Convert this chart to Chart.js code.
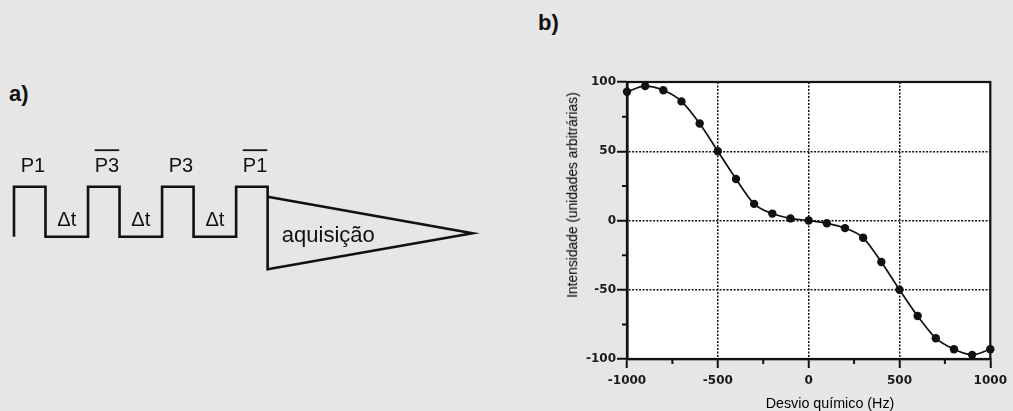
<!DOCTYPE html>
<html>
<head>
<meta charset="utf-8">
<script src="https://cdn.jsdelivr.net/npm/chart.js@4.4.1/dist/chart.umd.min.js"></script>
<style>
  html, body { margin:0; padding:0; }
  body { width:1013px; height:411px; position:relative; overflow:hidden; background:#e6e6e6; font-family:'Liberation Sans', Arial, sans-serif; color:#111; }
  .lbl { position:absolute; line-height:1; white-space:nowrap; }
  #wrapA { position:absolute; left:0; top:100px; width:520px; height:200px; }
  #wrapB { position:absolute; left:520px; top:0; width:493px; height:411px; }
</style>
</head>
<body>
<div class="lbl" style="left:9px;top:83px;font-weight:bold;font-size:22px;">a)</div>
<div class="lbl" style="left:538px;top:12px;font-weight:bold;font-size:22px;">b)</div>
<div id="wrapA"><canvas id="chartA" width="520" height="200"></canvas></div>
<div id="wrapB"><canvas id="chartB" width="493" height="411"></canvas></div>
<div class="lbl" style="left:573px;top:195px;font-size:13.8px;color:#000;transform:translate(-50%,-50%) rotate(-90deg);">Intensidade (unidades arbitrárias)</div>
<div class="lbl" style="left:830px;top:403px;font-size:14.3px;color:#000;transform:translate(-50%,-50%);">Desvio químico (Hz)</div>
<script>
// ---------- data: pulse sequence (a) ----------
const pulseLabels = ['P1', 'P3', 'P3', 'P1'];
const pulseBarred = [false, true, false, true];
const pulseLength = 1.0;      // time units
const delayLength = 1.35;     // Δt
const delayLabel = 'Δt';
const pulseHeight = 1.0;
const acqLength = 6.5;
const acqUpper = 0.8;
const acqLower = -0.65;
const acqEnd = 0.07;
const acqLabel = 'aquisição';

// ---------- data: chart (b) ----------
const shiftHz = [-1000, -900, -800, -700, -600, -500, -400, -300, -200, -100, 0,
                 100, 200, 300, 400, 500, 600, 700, 800, 900, 1000];
const intensity = [93, 97, 94, 86, 70, 50, 30, 12, 5, 1.5, 0,
                   -2, -5.5, -12.5, -30, -50, -69, -85, -93, -97, -93];
const xMajorTicks = [-1000, -500, 0, 500, 1000];
const yMajorTicks = [-100, -50, 0, 50, 100];
const xGridValues = [-500, 0, 500];
const yGridValues = [-50, 0, 50];

const INK = '#111';
const CLEAR = 'rgba(0,0,0,0)';

// ---------- chart (a): pulse sequence ----------
let t = 0;
const path = [];
const pulseStarts = [];
const delayStarts = [];
pulseLabels.forEach((_, i) => {
  pulseStarts.push(t);
  path.push({x: t, y: 0}, {x: t, y: pulseHeight}, {x: t + pulseLength, y: pulseHeight});
  t += pulseLength;
  if (i < pulseLabels.length - 1) {
    path.push({x: t, y: 0});
    delayStarts.push(t);
    t += delayLength;
  }
});
const acqStart = t;
path.push({x: t, y: acqLower}, {x: t + acqLength, y: acqEnd}, {x: t, y: acqUpper});

const seqLabels = {
  id: 'seqLabels',
  afterDraw(chart) {
    const c = chart.ctx, xs = chart.scales.x, ys = chart.scales.y;
    c.save();
    c.fillStyle = INK; c.strokeStyle = INK;
    c.textAlign = 'center'; c.textBaseline = 'alphabetic';
    c.font = '20px "Liberation Sans", Arial, sans-serif';
    pulseLabels.forEach((name, i) => {
      const cx = xs.getPixelForValue(pulseStarts[i] + pulseLength / 2 + 0.1);
      const by = ys.getPixelForValue(1.3);
      c.fillText(name, cx, by);
      if (pulseBarred[i]) {
        const w = c.measureText(name).width;
        const oy = ys.getPixelForValue(1.73);
        c.lineWidth = 1.8;
        c.beginPath(); c.moveTo(cx - w / 2, oy); c.lineTo(cx + w / 2, oy); c.stroke();
      }
    });
    delayStarts.forEach(d => {
      c.fillText(delayLabel, xs.getPixelForValue(d + delayLength / 2), ys.getPixelForValue(0.21));
    });
    c.textAlign = 'left';
    c.font = '22px "Liberation Sans", Arial, sans-serif';
    c.fillText(acqLabel, xs.getPixelForValue(acqStart + 0.45), ys.getPixelForValue(-0.1));
    c.restore();
  }
};

new Chart(document.getElementById('chartA'), {
  type: 'line',
  data: { datasets: [{ data: path, borderColor: INK, borderWidth: 2.6, pointRadius: 0,
    tension: 0, borderJoinStyle: 'miter', borderCapStyle: 'butt', fill: false, clip: false }] },
  options: {
    responsive: false, animation: false, events: [],
    layout: { padding: 0 },
    plugins: { legend: { display: false }, tooltip: { enabled: false } },
    scales: {
      x: { type: 'linear', display: false, min: -0.444, max: 16.06 },
      y: { type: 'linear', display: false, min: -1.266, max: 2.734 }
    }
  },
  plugins: [seqLabels]
});

// ---------- chart (b) ----------
const plotFrame = {
  id: 'plotFrame',
  beforeDraw(chart) {
    const {ctx, chartArea: a} = chart;
    ctx.save(); ctx.fillStyle = '#fff';
    ctx.fillRect(a.left, a.top, a.right - a.left, a.bottom - a.top);
    ctx.restore();
  },
  afterDraw(chart) {
    const {ctx, chartArea: a, scales} = chart;
    ctx.save();
    ctx.strokeStyle = INK;
    ctx.lineWidth = 2.2;
    ctx.strokeRect(a.left, a.top, a.right - a.left, a.bottom - a.top);
    // minor ticks
    ctx.lineWidth = 2;
    ctx.beginPath();
    scales.x.ticks.forEach(tk => {
      if (!xMajorTicks.includes(tk.value)) {
        const px = scales.x.getPixelForValue(tk.value);
        ctx.moveTo(px, a.bottom); ctx.lineTo(px, a.bottom + 5);
      }
    });
    scales.y.ticks.forEach(tk => {
      if (!yMajorTicks.includes(tk.value)) {
        const py = scales.y.getPixelForValue(tk.value);
        ctx.moveTo(a.left, py); ctx.lineTo(a.left - 5, py);
      }
    });
    ctx.stroke();
    ctx.restore();
  }
};

const tickFont = { family: '"DejaVu Sans", sans-serif', weight: 'bold', size: 12 };

new Chart(document.getElementById('chartB'), {
  type: 'line',
  data: { datasets: [{
    data: shiftHz.map((f, i) => ({x: f, y: intensity[i]})),
    borderColor: INK, borderWidth: 1.7,
    pointRadius: 4.2, pointBackgroundColor: INK, pointBorderWidth: 0,
    cubicInterpolationMode: 'monotone', fill: false, clip: false
  }] },
  options: {
    responsive: false, animation: false, events: [],
    layout: { padding: { top: 82, right: 16, left: 0, bottom: 0 } },
    plugins: { legend: { display: false }, tooltip: { enabled: false } },
    scales: {
      x: {
        type: 'linear', min: -1000, max: 1000,
        afterFit: s => { s.height = 52; },
        ticks: { stepSize: 250, autoSkip: false, maxRotation: 0, padding: 6,
          font: tickFont, color: '#1a1a1a',
          callback: v => xMajorTicks.includes(v) ? String(v) : '' },
        grid: {
          color: c => (c.tick && xGridValues.includes(c.tick.value)) ? INK : CLEAR,
          lineWidth: 1.5, tickLength: 9, tickWidth: 2,
          tickColor: c => (c.tick && xMajorTicks.includes(c.tick.value)) ? INK : CLEAR
        },
        border: { display: true, color: INK, width: 2.2, dash: [2, 1.5] }
      },
      y: {
        type: 'linear', min: -100, max: 100,
        afterFit: s => { s.width = 107; },
        ticks: { stepSize: 25, autoSkip: false, padding: 1,
          font: tickFont, color: '#1a1a1a',
          callback: v => yMajorTicks.includes(v) ? String(v) : '' },
        grid: {
          color: c => (c.tick && yGridValues.includes(c.tick.value)) ? INK : CLEAR,
          lineWidth: 1.5, tickLength: 10, tickWidth: 2,
          tickColor: c => (c.tick && yMajorTicks.includes(c.tick.value)) ? INK : CLEAR
        },
        border: { display: true, color: INK, width: 2.6, dash: [2, 1.5] }
      }
    }
  },
  plugins: [plotFrame]
});
</script>
</body>
</html>
